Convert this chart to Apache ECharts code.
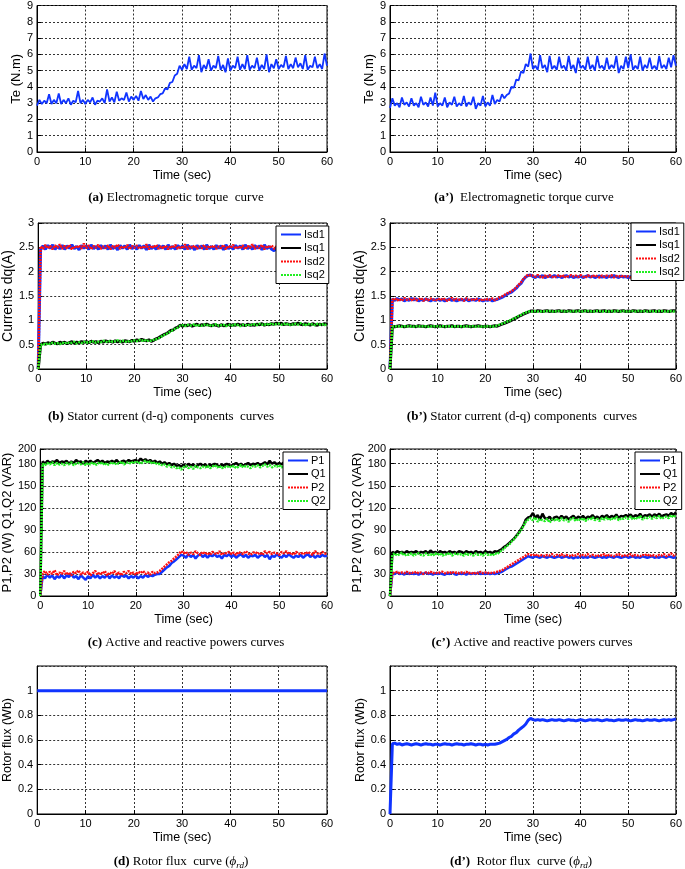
<!DOCTYPE html>
<html><head><meta charset="utf-8">
<script src="https://cdn.jsdelivr.net/npm/echarts@6/dist/echarts.min.js"></script>
<style>html,body{margin:0;padding:0;background:#fff}#c{width:685px;height:869px}</style>
</head><body><div id="c"></div>
<script>
// ---- time samples (sec) ----
const t = [0,0.5,1,1.5,2,2.5,3,3.5,4,4.5,5,5.5,6,6.5,7,7.5,8,8.5,9,9.5,10,10.5,11,11.5,12,12.5,13,13.5,14,14.5,15,15.5,16,16.5,17,17.5,18,18.5,19,19.5,20,20.5,21,21.5,22,22.5,23,23.5,24,24.5,25,25.5,26,26.5,27,27.5,28,28.5,29,29.5,30,30.5,31,31.5,32,32.5,33,33.5,34,34.5,35,35.5,36,36.5,37,37.5,38,38.5,39,39.5,40,40.5,41,41.5,42,42.5,43,43.5,44,44.5,45,45.5,46,46.5,47,47.5,48,48.5,49,49.5,50,50.5,51,51.5,52,52.5,53,53.5,54,54.5,55,55.5,56,56.5,57,57.5,58,58.5,59,59.5,60];

// ---- (a) torque ----
const teA = [2.85,3.2,2.95,3.15,3.0,3.55,2.95,3.2,3.0,3.6, 2.95,3.2,3.0,3.3,2.9,3.15,3.05,3.75,3.0,3.2, 2.95,3.2,3.05,3.35,2.9,3.15,3.1,3.3,3.0,3.85, 3.1,3.35,3.05,3.7,3.15,3.3,3.2,3.65,3.1,3.4, 3.2,3.45,3.15,3.75,3.25,3.5,3.2,3.4,3.1,3.3, 3.35,3.55,3.6,3.9,3.85,4.25,4.3,4.7,4.8,5.3, 5.05,5.4,5.1,5.85,5.05,5.3,5.15,5.95,4.9,5.35, 5.1,5.7,5.0,5.3,5.15,5.9,5.05,5.35,4.9,5.75, 5.0,5.3,5.15,5.85,5.05,5.4,5.1,5.95,5.05,5.3, 5.15,5.8,5.0,5.35,5.1,6.0,4.9,5.4,5.15,5.7, 5.1,5.35,5.2,5.9,5.1,5.4,5.15,5.8,5.2,5.45, 5.1,5.95,5.05,5.3,5.2,5.85,5.15,5.4,5.1,6.05, 5.3];
// ---- (a') torque ----
const teB = [2.7,3.3,2.85,3.0,2.75,3.35,2.9,3.05,2.8,3.3, 2.85,3.0,2.75,3.4,2.9,3.05,2.8,3.35,2.85,3.65, 2.8,3.0,2.85,3.35,2.75,3.05,2.9,3.4,2.8,3.0, 2.85,3.45,2.8,3.05,2.9,3.4,2.65,3.0,2.85,3.45, 2.8,3.05,2.85,3.5,2.95,3.2,3.1,3.55,3.3,3.5, 3.6,4.0,3.95,4.45,4.4,4.95,4.85,5.4,5.25,6.05, 5.1,5.3,5.05,5.95,5.15,5.35,4.9,5.9,5.1,5.3, 5.05,5.85,5.15,5.3,5.0,5.9,5.1,5.35,4.85,5.8, 5.15,5.3,5.05,5.85,5.1,5.35,5.0,5.9,5.15,5.3, 5.05,5.8,5.1,5.35,5.15,5.9,4.85,5.3,5.1,5.85, 5.15,6.0,5.05,5.3,5.1,5.85,5.0,5.35,5.15,5.8, 5.1,5.3,5.05,5.9,5.15,5.35,5.1,5.8,5.2,5.95, 5.3];

// ---- (b) stator currents ----
const isdA1 = [0,2.47,2.53,2.46,2.54,2.48,2.55,2.46,2.52,2.47, 2.54,2.46,2.53,2.48,2.55,2.47,2.52,2.45,2.54,2.48, 2.53,2.46,2.55,2.47,2.52,2.46,2.54,2.48,2.53,2.46, 2.55,2.47,2.52,2.45,2.54,2.48,2.53,2.46,2.55,2.47, 2.52,2.46,2.54,2.48,2.53,2.45,2.55,2.47,2.52,2.46, 2.54,2.48,2.53,2.46,2.55,2.47,2.52,2.46,2.54,2.48, 2.53,2.46,2.55,2.47,2.52,2.45,2.54,2.48,2.53,2.46, 2.55,2.47,2.52,2.46,2.54,2.48,2.53,2.45,2.55,2.47, 2.52,2.46,2.54,2.48,2.53,2.46,2.55,2.47,2.52,2.46, 2.54,2.48,2.53,2.45,2.55,2.47,2.52,2.46,2.43,2.48, 2.53,2.46,2.55,2.47,2.52,2.46,2.54,2.48,2.53,2.45, 2.55,2.47,2.52,2.46,2.54,2.48,2.53,2.46,2.55,2.47, 2.52];
const isqA1 = [0,0.5,0.53,0.51,0.54,0.52,0.55,0.53,0.52,0.55, 0.53,0.55,0.52,0.54,0.56,0.53,0.55,0.54,0.56,0.55, 0.56,0.54,0.57,0.55,0.56,0.54,0.57,0.55,0.58,0.56, 0.57,0.55,0.58,0.56,0.57,0.55,0.58,0.57,0.56,0.59, 0.57,0.6,0.58,0.61,0.59,0.58,0.6,0.57,0.59,0.62, 0.64,0.67,0.7,0.72,0.75,0.79,0.8,0.84,0.86,0.9, 0.88,0.9,0.89,0.91,0.88,0.9,0.92,0.89,0.91,0.9, 0.92,0.9,0.89,0.91,0.9,0.88,0.91,0.89,0.9,0.92, 0.89,0.91,0.9,0.92,0.9,0.91,0.89,0.92,0.9,0.91, 0.9,0.92,0.91,0.93,0.9,0.92,0.91,0.93,0.92,0.94, 0.92,0.94,0.91,0.93,0.92,0.91,0.93,0.92,0.94,0.92, 0.91,0.93,0.92,0.9,0.93,0.91,0.9,0.92,0.91,0.93, 0.91];
const isdA2 = [0,2.52,2.47,2.55,2.48,2.53,2.46,2.54,2.49,2.56, 2.47,2.53,2.48,2.55,2.46,2.52,2.49,2.54,2.47,2.58, 2.48,2.54,2.46,2.53,2.49,2.55,2.47,2.52,2.48,2.54, 2.46,2.53,2.49,2.56,2.47,2.52,2.48,2.55,2.46,2.53, 2.49,2.54,2.47,2.52,2.48,2.56,2.46,2.53,2.49,2.55, 2.47,2.52,2.48,2.54,2.46,2.53,2.49,2.55,2.47,2.52, 2.48,2.56,2.46,2.53,2.49,2.54,2.47,2.52,2.48,2.55, 2.46,2.53,2.49,2.54,2.47,2.52,2.48,2.55,2.46,2.53, 2.49,2.55,2.47,2.52,2.48,2.54,2.46,2.53,2.49,2.56, 2.47,2.52,2.48,2.55,2.46,2.53,2.49,2.54,2.47,2.52, 2.48,2.54,2.46,2.53,2.49,2.55,2.47,2.52,2.48,2.54, 2.46,2.53,2.49,2.55,2.47,2.52,2.48,2.54,2.46,2.53, 2.5];
const isqA2 = [0,0.49,0.52,0.5,0.53,0.51,0.54,0.52,0.53,0.51, 0.54,0.52,0.55,0.53,0.54,0.56,0.52,0.55,0.53,0.56, 0.54,0.56,0.55,0.57,0.54,0.56,0.55,0.58,0.56,0.55, 0.58,0.56,0.57,0.59,0.56,0.58,0.57,0.55,0.58,0.57, 0.59,0.57,0.6,0.58,0.6,0.57,0.59,0.58,0.6,0.61, 0.63,0.66,0.69,0.71,0.74,0.77,0.8,0.83,0.85,0.89, 0.9,0.88,0.91,0.89,0.9,0.92,0.88,0.9,0.89,0.91, 0.9,0.91,0.88,0.9,0.92,0.89,0.9,0.91,0.88,0.9, 0.91,0.89,0.92,0.9,0.88,0.91,0.9,0.89,0.92,0.9, 0.92,0.9,0.93,0.91,0.92,0.9,0.94,0.91,0.93,0.92, 0.93,0.91,0.92,0.94,0.9,0.92,0.91,0.93,0.91,0.94, 0.92,0.9,0.93,0.91,0.92,0.9,0.93,0.91,0.92,0.9, 0.92];

// ---- (b') stator currents ----
const isdB1 = [0,1.44,1.41,1.45,1.42,1.44,1.4,1.43,1.41,1.45, 1.42,1.44,1.4,1.43,1.41,1.44,1.42,1.4,1.43,1.41, 1.44,1.41,1.43,1.4,1.42,1.44,1.41,1.43,1.4,1.42, 1.43,1.41,1.44,1.4,1.42,1.43,1.41,1.44,1.42,1.4, 1.42,1.41,1.43,1.4,1.42,1.43,1.45,1.47,1.5,1.53, 1.56,1.58,1.62,1.66,1.72,1.76,1.84,1.89,1.92,1.93, 1.9,1.88,1.91,1.89,1.92,1.88,1.9,1.91,1.89,1.92, 1.89,1.91,1.88,1.9,1.92,1.89,1.91,1.88,1.9,1.89, 1.91,1.88,1.9,1.92,1.89,1.91,1.88,1.9,1.91,1.89, 1.9,1.88,1.91,1.89,1.92,1.9,1.88,1.91,1.89,1.9, 1.88,1.9,1.87,1.89,1.88,1.9,1.87,1.89,1.88,1.9, 1.89,1.87,1.9,1.88,1.89,1.87,1.9,1.88,1.89,1.91, 1.92];
const isqB1 = [0,0.88,0.87,0.88,0.89,0.88,0.87,0.88,0.89,0.88, 0.88,0.87,0.89,0.88,0.88,0.87,0.88,0.89,0.88,0.87, 0.88,0.89,0.88,0.87,0.88,0.88,0.89,0.87,0.88,0.88, 0.87,0.88,0.89,0.88,0.87,0.88,0.88,0.89,0.88,0.87, 0.88,0.88,0.87,0.88,0.89,0.88,0.9,0.92,0.94,0.96, 0.98,1.0,1.03,1.05,1.08,1.1,1.13,1.15,1.17,1.19, 1.19,1.18,1.2,1.19,1.18,1.19,1.2,1.18,1.19,1.18, 1.19,1.2,1.18,1.19,1.18,1.2,1.19,1.18,1.19,1.2, 1.18,1.19,1.2,1.18,1.19,1.18,1.19,1.2,1.18,1.19, 1.2,1.18,1.19,1.18,1.2,1.19,1.18,1.19,1.2,1.18, 1.19,1.18,1.2,1.19,1.18,1.19,1.18,1.2,1.19,1.18, 1.19,1.2,1.18,1.19,1.18,1.2,1.19,1.18,1.19,1.2, 1.19];
const isdB2 = [0,1.42,1.45,1.41,1.44,1.4,1.46,1.42,1.44,1.41, 1.45,1.41,1.43,1.46,1.4,1.44,1.41,1.45,1.42,1.43, 1.41,1.45,1.42,1.44,1.4,1.43,1.46,1.41,1.44,1.42, 1.44,1.4,1.45,1.42,1.43,1.41,1.45,1.42,1.4,1.44, 1.41,1.44,1.42,1.45,1.41,1.44,1.47,1.49,1.52,1.55, 1.57,1.6,1.63,1.68,1.73,1.78,1.85,1.9,1.94,1.92, 1.92,1.89,1.93,1.9,1.88,1.92,1.89,1.93,1.9,1.88, 1.91,1.93,1.89,1.92,1.88,1.91,1.93,1.9,1.92,1.89, 1.93,1.9,1.88,1.92,1.91,1.89,1.93,1.9,1.88,1.92, 1.89,1.92,1.9,1.93,1.88,1.91,1.9,1.92,1.89,1.91, 1.9,1.88,1.91,1.89,1.9,1.88,1.91,1.89,1.9,1.88, 1.9,1.88,1.91,1.89,1.9,1.88,1.91,1.89,1.92,1.93, 1.94];
const isqB2 = [0,0.87,0.88,0.87,0.88,0.87,0.88,0.88,0.87,0.88, 0.87,0.88,0.88,0.87,0.88,0.88,0.87,0.88,0.87,0.88, 0.88,0.87,0.88,0.88,0.87,0.88,0.87,0.88,0.88,0.87, 0.88,0.87,0.88,0.87,0.88,0.88,0.87,0.88,0.87,0.88, 0.87,0.88,0.88,0.87,0.88,0.89,0.91,0.93,0.95,0.97, 0.99,1.01,1.04,1.06,1.09,1.11,1.14,1.16,1.18,1.18, 1.18,1.19,1.18,1.18,1.19,1.18,1.19,1.19,1.18,1.19, 1.18,1.19,1.19,1.18,1.19,1.18,1.18,1.19,1.18,1.19, 1.19,1.18,1.19,1.19,1.18,1.19,1.18,1.19,1.19,1.18, 1.18,1.19,1.18,1.19,1.18,1.19,1.19,1.18,1.19,1.18, 1.19,1.18,1.19,1.18,1.19,1.19,1.18,1.19,1.18,1.19, 1.18,1.19,1.18,1.19,1.19,1.18,1.19,1.18,1.19,1.18, 1.19];

// ---- (c) powers ----
const pA1 = [0,27,24,29,25,28,23,27,25,29, 24,28,26,30,25,27,23,28,25,22, 27,24,29,25,28,24,27,25,29,24, 28,25,27,24,29,26,28,24,27,25, 28,24,27,25,29,26,28,27,29,30, 30,33,36,39,41,45,47,50,53,56, 55,52,57,53,56,51,55,57,53,56, 52,56,54,57,53,55,51,56,54,57, 53,56,52,55,57,53,56,52,55,54, 56,52,55,57,53,56,50,55,53,57, 54,52,56,53,57,54,52,55,53,56, 52,55,57,53,56,52,55,53,56,54, 55];
const qA1 = [0,183,180,184,181,183,182,185,181,183, 182,184,180,183,181,185,182,183,180,184, 182,184,181,183,185,182,184,181,183,182, 184,182,185,181,183,184,182,185,183,184, 185,183,187,184,186,183,185,182,184,181, 183,180,182,179,181,178,180,177,178,176, 179,176,180,177,179,176,178,180,177,179, 176,179,177,180,178,176,179,177,180,178, 177,179,181,178,180,177,179,181,178,180, 179,181,178,180,182,179,184,180,182,179, 181,179,182,180,178,181,179,182,180,178, 181,179,182,180,183,181,179,182,180,181, 180];
const pA2 = [0,31,34,29,33,30,35,28,32,30, 34,29,32,28,33,31,35,29,32,30, 33,28,31,34,29,32,30,34,28,32, 30,34,29,32,28,33,31,34,30,32, 29,33,31,34,30,32,29,33,31,32, 34,37,40,43,46,48,51,54,57,61, 58,60,56,59,57,61,58,56,60,57, 59,56,60,58,57,61,56,59,58,60, 57,59,56,60,58,57,61,58,56,59, 60,57,59,56,61,58,60,57,59,58, 56,60,58,61,57,59,56,60,58,57, 59,57,60,58,56,61,58,57,60,58, 57];
const qA2 = [0,180,178,181,179,182,178,181,179,180, 178,181,179,182,178,180,181,179,182,178, 181,179,182,178,180,182,179,181,178,180, 182,179,181,180,183,179,181,182,180,183, 181,183,180,182,184,181,183,180,182,179, 180,178,179,176,178,175,176,174,175,172, 175,177,174,176,173,177,175,174,176,175, 177,174,176,178,175,177,174,176,175,177, 175,177,174,176,178,175,177,176,174,177, 176,178,175,177,179,176,178,175,177,176, 178,175,177,176,174,177,175,178,176,174, 177,175,178,176,174,177,176,175,178,176, 177];

// ---- (c') powers ----
const pB1 = [0,31,30,32,30,31,29,32,30,31, 30,31,29,31,30,32,30,31,29,31, 30,31,30,29,31,30,32,30,29,31, 30,31,29,31,30,31,30,32,30,31, 30,31,30,31,30,31,32,33,35,37, 39,40,42,44,46,48,50,52,54,53, 52,54,53,52,54,53,52,54,53,52, 53,54,52,53,54,52,53,51,53,52, 54,52,53,52,54,53,52,53,54,52, 53,52,54,53,52,54,53,52,53,54, 52,53,54,52,53,52,54,53,52,53, 54,52,53,52,54,53,52,54,53,52, 53];
const qB1 = [0,60,58,61,59,60,58,61,59,60, 59,61,58,60,59,61,58,62,59,60, 58,61,59,60,58,61,59,60,58,61, 60,58,61,59,60,58,61,59,60,58, 61,59,60,58,61,60,62,64,67,69, 72,75,78,82,86,91,96,104,107,108, 113,106,110,104,112,106,105,108,103,107, 108,105,109,106,108,104,107,109,105,108, 106,109,105,108,107,110,106,108,105,109, 107,110,106,109,107,111,106,109,108,110, 108,111,107,110,108,112,107,110,109,111, 108,111,109,112,108,110,111,109,113,110, 114];
const pB2 = [0,32,31,33,31,32,31,33,31,32, 31,33,31,32,30,32,31,33,31,32, 31,32,33,31,32,31,33,31,32,31, 32,31,33,31,32,30,32,31,33,31, 32,31,32,31,32,33,34,35,37,39, 41,43,45,47,49,51,53,55,57,56, 55,57,54,56,55,54,56,55,57,54, 56,55,57,54,56,55,54,56,55,57, 54,56,55,57,54,56,55,54,56,55, 57,54,56,55,54,56,57,55,54,56, 55,57,54,56,55,54,56,55,57,54, 56,55,54,56,55,57,54,56,58,55, 57];
const qB2 = [0,56,58,55,57,59,55,57,56,58, 55,57,58,56,55,58,56,57,55,58, 56,58,55,57,56,59,55,57,58,56, 57,55,58,56,57,55,58,56,57,55, 58,56,57,55,58,57,60,62,65,68, 70,74,77,81,85,90,95,101,104,106, 103,107,101,105,103,102,105,100,104,103, 105,102,106,103,104,101,105,106,102,105, 103,106,102,105,104,107,103,105,102,106, 104,107,103,106,104,108,103,106,105,107, 105,108,104,107,105,109,104,107,106,108, 105,108,106,109,105,107,108,106,110,107, 110];

// ---- (d) rotor flux ----
const tFluxA = [0, 60];
const fluxA = [1, 1];
// ---- (d') rotor flux ----
const fluxB = [0,0.57,0.575,0.565,0.57,0.56,0.565,0.57,0.565,0.56, 0.565,0.57,0.565,0.56,0.565,0.57,0.565,0.565,0.56,0.565, 0.565,0.56,0.565,0.57,0.565,0.565,0.56,0.565,0.57,0.565, 0.565,0.56,0.565,0.565,0.57,0.565,0.56,0.565,0.565,0.56, 0.565,0.56,0.565,0.565,0.565,0.57,0.575,0.585,0.595,0.605, 0.62,0.63,0.65,0.66,0.68,0.695,0.71,0.73,0.76,0.775, 0.765,0.76,0.765,0.76,0.765,0.76,0.755,0.76,0.765,0.76, 0.76,0.765,0.76,0.755,0.76,0.765,0.76,0.76,0.755,0.76, 0.765,0.76,0.755,0.76,0.765,0.76,0.76,0.765,0.76,0.755, 0.76,0.765,0.76,0.76,0.755,0.76,0.765,0.76,0.76,0.765, 0.76,0.755,0.76,0.765,0.76,0.76,0.755,0.76,0.765,0.76, 0.76,0.765,0.76,0.755,0.76,0.765,0.76,0.765,0.76,0.765, 0.77];

// ---- axis settings / labels ----
const xTicks = {min: 0, max: 60, interval: 10};
const yTe = {min: 0, max: 9, interval: 1};
const yCur = {min: 0, max: 3, interval: 0.5};
const yPow = {min: 0, max: 200, interval: 30};
const yFlux = {min: 0, max: 1.2, interval: 0.2};
const xName = 'Time (sec)';
const captions = [
  ['(a)', ' Electromagnetic torque  curve'],
  ['(a’)', '  Electromagnetic torque curve'],
  ['(b)', ' Stator current (d-q) components  curves'],
  ['(b’)', ' Stator current (d-q) components  curves'],
  ['(c)', ' Active and reactive powers curves'],
  ['(c’)', ' Active and reactive powers curves'],
  ['(d)', ' Rotor flux  curve ('],
  ['(d’)', '  Rotor flux  curve (']
];

// ---- layout ----
const BLUE = '#1034ff', RED = '#ff1010', GREEN = '#22ee22', BLACK = '#000';
const SANS = 'Liberation Sans, Arial, sans-serif';
const SERIF = 'Liberation Serif, DejaVu Serif, serif';
const L = [37, 390], W = 290;
const rows = [{top: 5, h: 147}, {top: 223, h: 146}, {top: 449, h: 147}, {top: 666, h: 148}];
const yDefs = [
  {s: yTe, name: 'Te (N.m)', fs: 13, gap: [13, 14]},
  {s: yCur, name: 'Currents dq(A)', fs: 14, gap: [21, 22]},
  {s: yPow, name: 'P1,P2 (W) Q1,Q2 (VAR)', fs: 13, gap: [23, 26]},
  {s: yFlux, name: 'Rotor flux (Wb)', fs: 12.5, gap: [22, 22]}
];
const capPos = [[176, 198], [524, 198], [161, 417], [522, 417], [186, 643], [532, 643], [181, 862], [521, 862]];

const grid = [], xAxis = [], yAxis = [], series = [], graphic = [], legend = [];
function pairs(xs, ys) { return xs.map((x, i) => [x, ys[i]]); }

for (let r = 0; r < 4; r++) {
  for (let c = 0; c < 2; c++) {
    const gi = r * 2 + c;
    grid.push({left: L[c], top: rows[r].top, width: W, height: rows[r].h, show: true, borderColor: '#000', borderWidth: 1, backgroundColor: '#fff'});
    xAxis.push({type: 'value', gridIndex: gi, min: xTicks.min, max: xTicks.max, interval: xTicks.interval,
      name: xName, nameLocation: 'middle', nameGap: 17,
      nameTextStyle: {fontFamily: SANS, fontSize: 12.5, color: '#000'},
      axisLine: {show: true, onZero: false, lineStyle: {color: '#000', width: 1}},
      axisTick: {show: true, inside: true, length: 4, lineStyle: {color: '#000'}},
      axisLabel: {fontFamily: SANS, fontSize: 11, color: '#000', margin: 4},
      splitLine: {show: true, lineStyle: {color: '#333', type: [2, 2], width: 1}}
    });
    const yd = yDefs[r];
    yAxis.push({type: 'value', gridIndex: gi, min: yd.s.min, max: yd.s.max, interval: yd.s.interval,
      name: yd.name, nameLocation: 'middle', nameGap: yd.gap[c], nameRotate: 90,
      nameTextStyle: {fontFamily: SANS, fontSize: yd.fs, color: '#000'},
      axisLine: {show: true, onZero: false, lineStyle: {color: '#000', width: 1}},
      axisTick: {show: true, inside: true, length: 4, lineStyle: {color: '#000'}},
      axisLabel: {fontFamily: SANS, fontSize: 11, color: '#000', margin: 4, showMaxLabel: r !== 3},
      splitLine: {show: true, lineStyle: {color: '#333', type: [2, 2], width: 1}}
    });
    const cap = captions[gi];
    let text = '{b|' + cap[0] + '}{n|' + cap[1] + '}';
    if (r === 3) text += '{i|ϕ}{s|rd}{n|)}';
    graphic.push({type: 'text', x: capPos[gi][0], y: capPos[gi][1], style: {
      text: text, align: 'center', verticalAlign: 'middle', fill: '#000',
      rich: {
        b: {fontFamily: SERIF, fontWeight: 'bold', fontSize: 13, fill: '#000'},
        n: {fontFamily: SERIF, fontSize: 13, fill: '#000'},
        i: {fontFamily: SERIF, fontStyle: 'italic', fontSize: 13, fill: '#000'},
        s: {fontFamily: SERIF, fontStyle: 'italic', fontSize: 9, fill: '#000', padding: [7, 0, 0, 0]}
      }
    }});
  }
}

function line(name, gi, xs, ys, color, width, dotted) {
  series.push({type: 'line', name: name, xAxisIndex: gi, yAxisIndex: gi, data: pairs(xs, ys),
    symbol: 'none', showSymbol: false, animation: false, sampling: null,
    lineStyle: {color: color, width: width, type: dotted ? [2, 1] : 'solid'},
    itemStyle: {color: color}, z: 2});
}
line('Te1', 0, t, teA, BLUE, 1.8, false);
line('Te2', 1, t, teB, BLUE, 1.8, false);
line('Isd1', 2, t, isdA1, BLUE, 3, false);
line('Isq1', 2, t, isqA1, BLACK, 3, false);
line('Isd2', 2, t, isdA2, RED, 2.5, true);
line('Isq2', 2, t, isqA2, GREEN, 2.5, true);
line('Isd1', 3, t, isdB1, BLUE, 3, false);
line('Isq1', 3, t, isqB1, BLACK, 3, false);
line('Isd2', 3, t, isdB2, RED, 2.5, true);
line('Isq2', 3, t, isqB2, GREEN, 2.5, true);
line('P1', 4, t, pA1, BLUE, 2.5, false);
line('Q1', 4, t, qA1, BLACK, 2.5, false);
line('P2', 4, t, pA2, RED, 2.5, true);
line('Q2', 4, t, qA2, GREEN, 2.5, true);
line('P1', 5, t, pB1, BLUE, 2.5, false);
line('Q1', 5, t, qB1, BLACK, 2.5, false);
line('P2', 5, t, pB2, RED, 2.5, true);
line('Q2', 5, t, qB2, GREEN, 2.5, true);
line('Flux1', 6, tFluxA, fluxA, BLUE, 3, false);
line('Flux2', 7, t, fluxB, BLUE, 3, false);

function leg(names, left, top) {
  legend.push({data: names, orient: 'vertical', left: left, top: top, selectedMode: false,
    backgroundColor: '#fff', borderColor: '#000', borderWidth: 1, borderRadius: 0,
    padding: [3, 4, 3, 4], itemGap: 2.5, itemWidth: 20, itemHeight: 10,
    itemStyle: {opacity: 0, borderWidth: 0},
    textStyle: {fontFamily: SANS, fontSize: 11, color: '#000', padding: [0, 0, 0, -2]}});
}
leg(['Isd1', 'Isq1', 'Isd2', 'Isq2'], 276, 226);
leg(['Isd1', 'Isq1', 'Isd2', 'Isq2'], 631, 223);
leg(['P1', 'Q1', 'P2', 'Q2'], 283, 452);
leg(['P1', 'Q1', 'P2', 'Q2'], 635, 452);

const chart = echarts.init(document.getElementById('c'), null, {renderer: 'canvas'});
chart.setOption({animation: false, backgroundColor: '#fff', grid, xAxis, yAxis, series, legend, graphic});
</script>
</body></html>
